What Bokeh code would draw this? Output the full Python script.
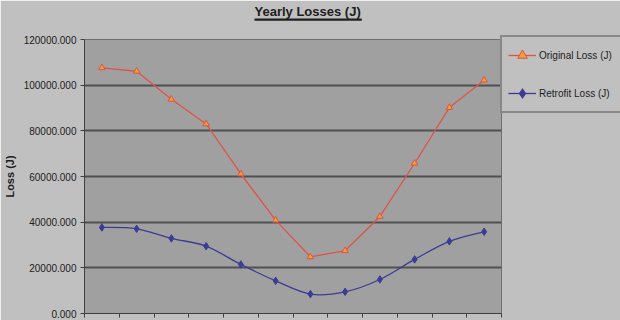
from bokeh.plotting import figure
from bokeh.models import (Range1d, FixedTicker, PrintfTickFormatter, CustomJSTickFormatter,
                          Legend, LegendItem, Title)
from bokeh.embed import file_html
from bokeh.resources import INLINE

# ---- data ----
periods = list(range(1, 13))
original_loss = [107600, 106100, 93800, 83000, 61100, 40900, 24800, 27500, 42500, 65800, 90200, 102200]
retrofit_loss = [37700, 37100, 32900, 29500, 21500, 14300, 8500, 9500, 14900, 23700, 31600, 35800]
y_ticks = [0, 20000, 40000, 60000, 80000, 100000, 120000]
title_text = "Yearly Losses (J)"
y_label = "Loss (J)"
series_names = ["Original Loss (J)", "Retrofit Loss (J)"]

BG = "#c0c0c0"
FRAME = "#a0a0a0"
RED = "#e0524a"
ORANGE = "#f0a030"
NAVY = "#3c3c94"
TXT = "#202020"
FONT = "Liberation Sans"

xs = [i - 0.5 for i in periods]
n = len(xs)
blank = [float("nan")] * n

p = figure(width=620, height=320, output_backend="svg", toolbar_location=None,
           x_range=Range1d(0, len(periods)), y_range=Range1d(0, 120000),
           min_border_left=80, min_border_right=123, min_border_top=39, min_border_bottom=7)
p.frame_width = 417
p.frame_height = 274
p.background_fill_color = FRAME
p.border_fill_color = BG
p.outline_line_color = "#707070"
p.outline_line_width = 1

# title (outermost), its underline bar, and an empty spacer next to the frame
p.title.text = title_text
p.title.text_font = FONT
p.title.text_font_size = "13px"
p.title.text_font_style = "bold"
p.title.text_color = TXT
p.title.align = "left"
p.title.offset = 170
p.title.standoff = 0
p.title.vertical_align = "bottom"

spacer = Title(text=" ", text_font=FONT, text_font_size="10px", standoff=4)
underline = Title(text=" " * 193, text_font=FONT, text_font_size="2px",
                  background_fill_color=TXT, background_fill_alpha=1,
                  align="left", offset=170, standoff=0, vertical_align="top")
p.add_layout(spacer, "above")
p.add_layout(underline, "above")

# axes
p.xaxis.ticker = FixedTicker(ticks=list(range(0, len(periods) + 1)))
p.xaxis.formatter = CustomJSTickFormatter(code="return ''")
p.xaxis.major_label_text_font_size = "0px"
p.xaxis.major_label_standoff = 0
p.xaxis.axis_line_color = "#404040"
p.xaxis.major_tick_line_color = "#404040"
p.xaxis.major_tick_out = 4
p.xaxis.major_tick_in = 0
p.xaxis.minor_tick_line_color = None

p.yaxis.ticker = FixedTicker(ticks=y_ticks)
p.yaxis.formatter = PrintfTickFormatter(format="%.3f")
p.yaxis.major_label_text_font = FONT
p.yaxis.major_label_text_font_size = "10px"
p.yaxis.major_label_text_color = TXT
p.yaxis.major_label_standoff = 4
p.yaxis.axis_line_color = "#404040"
p.yaxis.major_tick_line_color = "#404040"
p.yaxis.major_tick_out = 4
p.yaxis.major_tick_in = 0
p.yaxis.minor_tick_line_color = None
p.yaxis.axis_label = y_label
p.yaxis.axis_label_text_font = FONT
p.yaxis.axis_label_text_font_size = "11px"
p.yaxis.axis_label_text_font_style = "bold"
p.yaxis.axis_label_text_color = TXT
p.yaxis.axis_label_standoff = 5

p.xgrid.grid_line_color = None
p.ygrid.grid_line_color = "#505050"
p.ygrid.grid_line_width = 2

# original series: straight segments with triangles
p.line(xs, original_loss, line_color=RED, line_width=1.3)
p.scatter(xs, original_loss, marker="triangle", size=6.5,
          fill_color=ORANGE, line_color=RED, line_width=1)

# retrofit series: smoothed curve (Catmull-Rom -> Bezier) with diamonds
x0, y0, x1, y1, cx0, cy0, cx1, cy1 = [], [], [], [], [], [], [], []
for i in range(n - 1):
    pm = (xs[max(i - 1, 0)], retrofit_loss[max(i - 1, 0)])
    pa = (xs[i], retrofit_loss[i])
    pb = (xs[i + 1], retrofit_loss[i + 1])
    pn = (xs[min(i + 2, n - 1)], retrofit_loss[min(i + 2, n - 1)])
    t = 1.0 / 6.0
    x0.append(pa[0]); y0.append(pa[1])
    x1.append(pb[0]); y1.append(pb[1])
    cx0.append(pa[0] + (pb[0] - pm[0]) * t); cy0.append(pa[1] + (pb[1] - pm[1]) * t)
    cx1.append(pb[0] - (pn[0] - pa[0]) * t); cy1.append(pb[1] - (pn[1] - pa[1]) * t)
p.bezier(x0=x0, y0=y0, x1=x1, y1=y1, cx0=cx0, cy0=cy0, cx1=cx1, cy1=cy1,
         line_color=NAVY, line_width=1.3)
p.scatter(xs, retrofit_loss, marker="diamond", size=7.5,
          fill_color=NAVY, line_color=NAVY)

# legend swatches (renderers with no visible points, smaller markers like the original)
lg_o_line = p.line(x=xs, y=blank, line_color=RED, line_width=1.3)
lg_o_pts = p.scatter(x=xs, y=blank, marker="triangle", size=5.5,
                     fill_color=ORANGE, line_color=RED, line_width=1)
lg_r_line = p.line(x=xs, y=blank, line_color=NAVY, line_width=1.3)
lg_r_pts = p.scatter(x=xs, y=blank, marker="diamond", size=6,
                     fill_color=NAVY, line_color=NAVY)

legend = Legend(items=[LegendItem(label=series_names[0], renderers=[lg_o_line, lg_o_pts]),
                       LegendItem(label=series_names[1], renderers=[lg_r_line, lg_r_pts])],
                location=(-1, 200))
legend.background_fill_color = BG
legend.background_fill_alpha = 1
legend.border_line_color = "#505050"
legend.border_line_width = 2
legend.label_text_font = FONT
legend.label_text_font_size = "10px"
legend.label_text_color = TXT
legend.glyph_width = 28
legend.glyph_height = 24
legend.label_height = 24
legend.label_width = 82
legend.spacing = 14
legend.padding = 6
legend.margin = 0
legend.label_standoff = 3
p.add_layout(legend, "right")

open("out.html", "w").write(file_html(p, INLINE))
